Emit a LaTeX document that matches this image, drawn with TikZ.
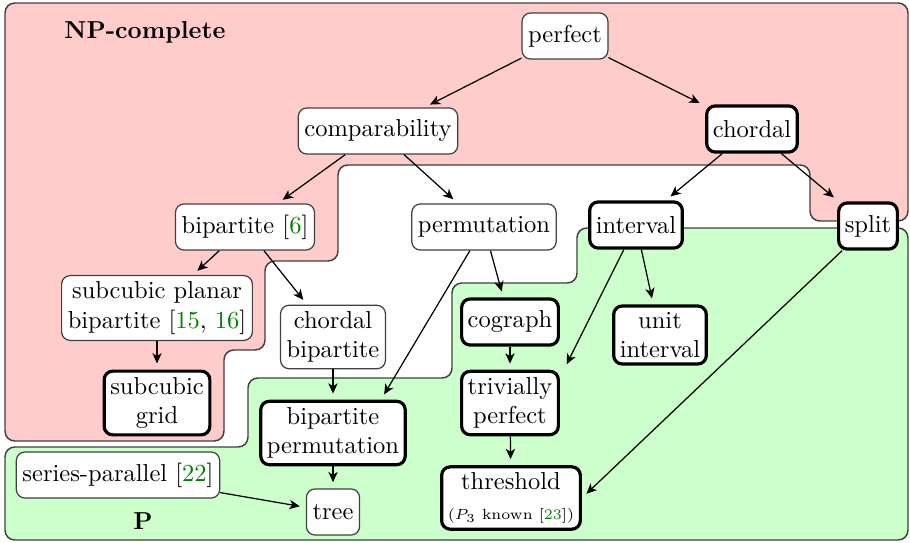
\documentclass[tikz,border=0pt]{standalone}
\usetikzlibrary{arrows.meta,calc}
\definecolor{citegreen}{rgb}{0,0.5,0}
\definecolor{npred}{HTML}{FFCCCC}
\definecolor{pgreen}{HTML}{CCFFCC}
\newcommand{\cit}[1]{\textcolor{citegreen}{#1}}
\begin{document}
\begin{tikzpicture}[x=0.408pt,y=-0.408pt,
  region/.style={draw=black!75, line width=0.6pt, rounded corners=4pt},
  cls/.style={draw=black!75, fill=white, rounded corners=3.5pt, line width=0.5pt,
    inner sep=2.5pt, minimum height=18.8pt, align=center},
  hardcls/.style={cls, draw=black, line width=1.3pt},
  arr/.style={-{Stealth[length=4.2pt,width=3.8pt,inset=1.2pt]}, line width=0.5pt, shorten >=2.5pt},
  lbl/.style={font=\bfseries}]
\useasboundingbox (0,0) rectangle (910,543);
% regions
\fill[npred, region] (5,3) -- (908,3) -- (908,221) -- (810,221) -- (810,165) -- (338,165)
  -- (338,261) -- (265,261) -- (265,350) -- (224,350) -- (224,441) -- (5,441) -- cycle;
\fill[pgreen, region] (5,447) -- (248,447) -- (248,378) -- (452,378) -- (452,283)
  -- (577,283) -- (577,228) -- (908,228) -- (908,540) -- (5,540) -- cycle;
\node[lbl] (np) at (145,32) {NP-complete};
\node[lbl] (p) at (143,521) {P};
% nodes
\node[cls] (perfect) at (565,36) {perfect};
\node[cls] (comp) at (378,131) {comparability};
\node[hardcls] (chordal) at (752,129) {chordal};
\node[cls] (bip) at (245,227) {bipartite [\cit{6}]};
\node[cls] (perm) at (484,227) {permutation};
\node[hardcls] (interval) at (636,225) {interval};
\node[hardcls] (split) at (868,226) {split};
\node[cls] (scpb) at (157,308) {subcubic planar\\bipartite [\cit{15}, \cit{16}]};
\node[cls] (cb) at (333,337) {chordal\\bipartite};
\node[hardcls] (cograph) at (510,322) {cograph};
\node[hardcls] (ui) at (660,335) {unit\\interval};
\node[hardcls] (grid) at (157,403) {subcubic\\grid};
\node[hardcls] (bp) at (333,433) {bipartite\\permutation};
\node[hardcls] (tp) at (510,403) {trivially\\perfect};
\node[cls] (sp) at (118,475) {series-parallel [\cit{22}]};
\node[cls] (tree) at (333,512) {tree};
\node[hardcls] (thr) at (511,498) {threshold\\{\fontsize{6pt}{7pt}\selectfont ($P_3$ known [\cit{23}])}};
% edges
\draw[arr] (perfect) -- (comp);
\draw[arr] (perfect) -- (chordal);
\draw[arr] (comp) -- (bip);
\draw[arr] (comp) -- (perm);
\draw[arr] (chordal) -- (interval);
\draw[arr] (chordal) -- (split);
\draw[arr] (bip) -- (scpb);
\draw[arr] (bip) -- (cb);
\draw[arr] (perm) -- (cograph);
\draw[arr] (perm) -- ($(bp.north)!0.65!(bp.north east)$);
\draw[arr] (interval) -- ($(tp.north east)+(4,0)$);
\draw[arr] (interval) -- (ui);
\draw[arr] (split) -- (thr.east);
\draw[arr] (scpb) -- (grid);
\draw[arr] (cb) -- (bp);
\draw[arr] (cograph) -- (tp);
\draw[arr] (tp) -- (thr);
\draw[arr] (bp) -- (tree);
\draw[arr] (sp) -- (tree);
\end{tikzpicture}
\end{document}
